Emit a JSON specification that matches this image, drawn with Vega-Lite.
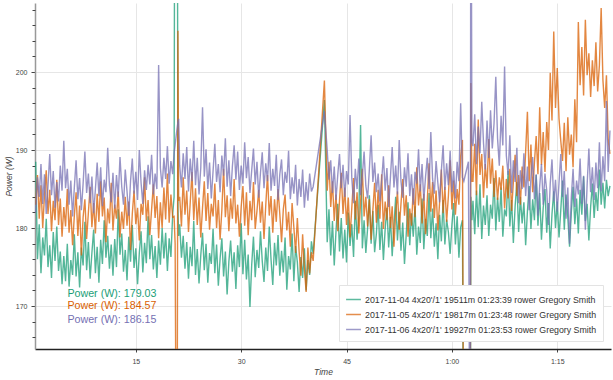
{
  "$schema": "https://vega.github.io/schema/vega-lite/v6.json",
  "width": 576,
  "height": 346,
  "autosize": {"type": "none"},
  "padding": {"left": 35, "top": 3, "right": 2, "bottom": 31},
  "background": "white",
  "config": {"font": "Liberation Sans", "view": {"stroke": null}},
  "encoding": {
    "x": {
      "field": "t", "type": "quantitative",
      "scale": {"domain": [0.65, 82.65], "nice": false, "zero": false},
      "axis": {
        "values": [15, 30, 45, 60, 75],
        "labelExpr": "datum.value < 60 ? '' + datum.value : floor(datum.value/60) + ':' + (datum.value % 60 < 10 ? '0' : '') + (datum.value % 60)",
        "title": "Time", "grid": true, "gridColor": "#e6e6e6",
        "domainColor": "#222", "domainWidth": 1.5, "tickSize": 3, "tickColor": "#444",
        "labelFontSize": 7, "labelColor": "#444", "labelPadding": 5,
        "titleFontSize": 8.5, "titleFontStyle": "italic", "titleFontWeight": "normal", "titleColor": "#444", "titlePadding": 3
      }
    }
  },
  "layer": [
    {
      "data": {"values": [
        {"t":0.75,"g":188.5,"o":183.0,"p":182.0},{"t":1.0,"g":176.0,"o":186.8,"p":186.5},{"t":1.25,"g":180.5,"o":181.2,"p":184.0},{"t":1.5,"g":174.2,"o":185.5,"p":188.2},{"t":1.75,"g":178.8,"o":180.0,"p":183.1},
        {"t":2.0,"g":176.5,"o":184.2,"p":186.9},{"t":2.25,"g":181.2,"o":187.4,"p":181.8},{"t":2.5,"g":175.0,"o":181.8,"p":185.4},{"t":2.75,"g":177.8,"o":184.9,"p":189.5},{"t":3.0,"g":173.6,"o":179.6,"p":184.2},
        {"t":3.25,"g":179.5,"o":183.5,"p":187.3},{"t":3.5,"g":175.8,"o":181.0,"p":182.6},{"t":3.75,"g":180.2,"o":186.2,"p":185.9},{"t":4.0,"g":174.5,"o":180.4,"p":183.4},{"t":4.25,"g":177.0,"o":183.8,"p":188.0},
        {"t":4.5,"g":172.8,"o":178.9,"p":184.8},{"t":4.75,"g":176.4,"o":182.7,"p":191.2},{"t":5.0,"g":173.2,"o":180.2,"p":185.1},{"t":5.25,"g":178.0,"o":185.0,"p":187.6},{"t":5.5,"g":172.5,"o":179.4,"p":183.0},
        {"t":5.75,"g":175.9,"o":182.3,"p":186.1},{"t":6.0,"g":174.0,"o":177.8,"p":181.5},{"t":6.25,"g":179.2,"o":181.6,"p":185.2},{"t":6.5,"g":173.8,"o":184.6,"p":188.7},{"t":6.75,"g":176.9,"o":179.0,"p":183.7},
        {"t":7.0,"g":172.4,"o":182.9,"p":186.4},{"t":7.25,"g":177.5,"o":176.5,"p":182.3},{"t":7.5,"g":175.2,"o":181.4,"p":185.7},{"t":7.75,"g":180.8,"o":183.7,"p":189.8},{"t":8.0,"g":174.6,"o":178.6,"p":184.5},
        {"t":8.25,"g":178.2,"o":182.0,"p":187.0},{"t":8.5,"g":173.5,"o":185.3,"p":183.2},{"t":8.75,"g":176.8,"o":180.1,"p":186.6},{"t":9.0,"g":179.8,"o":183.2,"p":181.9},{"t":9.25,"g":174.2,"o":179.3,"p":185.0},
        {"t":9.5,"g":177.6,"o":184.4,"p":188.4},{"t":9.75,"g":173.0,"o":180.8,"p":184.1},{"t":10.0,"g":178.5,"o":186.0,"p":187.8},{"t":10.25,"g":175.4,"o":181.5,"p":182.8},{"t":10.5,"g":181.0,"o":183.9,"p":186.2},
        {"t":10.75,"g":176.2,"o":178.2,"p":184.6},{"t":11.0,"g":179.0,"o":182.5,"p":190.3},{"t":11.25,"g":174.8,"o":180.6,"p":185.5},{"t":11.5,"g":177.9,"o":185.8,"p":183.3},{"t":11.75,"g":173.9,"o":179.7,"p":187.1},
        {"t":12.0,"g":178.6,"o":183.0,"p":182.5},{"t":12.25,"g":175.0,"o":181.2,"p":186.8},{"t":12.5,"g":182.4,"o":184.7,"p":184.0},{"t":12.75,"g":176.6,"o":178.8,"p":189.1},{"t":13.0,"g":179.3,"o":182.1,"p":185.3},
        {"t":13.25,"g":174.4,"o":179.9,"p":183.0},{"t":13.5,"g":177.2,"o":184.0,"p":187.5},{"t":13.75,"g":173.3,"o":180.3,"p":184.7},{"t":14.0,"g":178.9,"o":183.4,"p":181.6},{"t":14.25,"g":175.7,"o":177.2,"p":186.0},
        {"t":14.5,"g":180.4,"o":181.8,"p":188.9},{"t":14.75,"g":174.9,"o":184.8,"p":184.4},{"t":15.0,"g":177.4,"o":180.5,"p":187.2},{"t":15.25,"g":172.8,"o":182.6,"p":183.6},{"t":15.5,"g":176.8,"o":178.4,"p":190.0},
        {"t":15.75,"g":179.6,"o":183.1,"p":185.8},{"t":16.0,"g":174.3,"o":181.7,"p":183.1},{"t":16.25,"g":178.1,"o":186.5,"p":187.4},{"t":16.5,"g":175.5,"o":180.9,"p":184.9},{"t":16.75,"g":181.5,"o":183.6,"p":188.1},
        {"t":17.0,"g":176.0,"o":179.1,"p":185.6},{"t":17.25,"g":179.1,"o":182.4,"p":189.4},{"t":17.5,"g":174.7,"o":185.6,"p":184.3},{"t":17.75,"g":177.7,"o":181.3,"p":187.0},{"t":18.0,"g":173.6,"o":184.1,"p":185.0},
        {"t":18.25,"g":178.4,"o":178.7,"p":200.9},{"t":18.5,"g":175.3,"o":183.3,"p":187.7},{"t":18.75,"g":180.0,"o":180.0,"p":185.2},{"t":19.0,"g":176.1,"o":185.2,"p":189.0},{"t":19.25,"g":179.4,"o":181.1,"p":186.3},
        {"t":19.5,"g":174.5,"o":187.0,"p":190.5},{"t":19.75,"g":178.7,"o":180.7,"p":185.7},{"t":20.0,"g":176.3,"o":184.3,"p":188.6},{"t":20.25,"g":181.8,"o":181.4,"p":186.9},
        {"t":20.45,"g":184.0,"o":181.5,"p":189.6},{"t":20.6,"g":260,"o":178.0,"p":190.7},{"t":20.85,"g":260,"o":130,"p":192.6},{"t":21.0,"g":182.5,"o":205.3,"p":193.6},{"t":21.1,"g":179.0,"o":183.5,"p":194.0},
        {"t":21.25,"g":180.5,"o":184.0,"p":188.0},{"t":21.5,"g":176.2,"o":180.2,"p":185.2},{"t":21.75,"g":179.0,"o":186.5,"p":189.6},{"t":22.0,"g":174.8,"o":181.7,"p":186.3},{"t":22.25,"g":178.2,"o":184.8,"p":190.4},
        {"t":22.5,"g":173.5,"o":179.5,"p":184.7},{"t":22.75,"g":177.6,"o":183.3,"p":188.9},{"t":23.0,"g":175.1,"o":187.2,"p":186.0},{"t":23.25,"g":180.9,"o":181.0,"p":191.2},{"t":23.5,"g":174.0,"o":185.1,"p":185.5},
        {"t":23.75,"g":177.3,"o":180.4,"p":189.0},{"t":24.0,"g":172.9,"o":183.9,"p":184.3},{"t":24.25,"g":176.5,"o":178.8,"p":187.7},{"t":24.5,"g":179.4,"o":182.6,"p":195.5},{"t":24.75,"g":174.6,"o":186.0,"p":186.6},
        {"t":25.0,"g":178.0,"o":180.9,"p":190.1},{"t":25.25,"g":173.0,"o":184.5,"p":185.0},{"t":25.5,"g":176.8,"o":179.8,"p":188.4},{"t":25.75,"g":175.4,"o":183.1,"p":183.8},{"t":26.0,"g":179.9,"o":181.5,"p":187.3},
        {"t":26.25,"g":174.2,"o":185.7,"p":190.8},{"t":26.5,"g":177.9,"o":180.0,"p":185.9},{"t":26.75,"g":172.6,"o":183.6,"p":188.2},{"t":27.0,"g":176.1,"o":178.5,"p":184.6},{"t":27.25,"g":178.7,"o":182.3,"p":189.3},
        {"t":27.5,"g":173.8,"o":187.6,"p":186.7},{"t":27.75,"g":177.0,"o":181.4,"p":191.5},{"t":28.0,"g":171.5,"o":184.2,"p":185.3},{"t":28.25,"g":175.7,"o":179.6,"p":188.7},{"t":28.5,"g":178.4,"o":183.8,"p":184.1},
        {"t":28.75,"g":174.4,"o":181.2,"p":187.9},{"t":29.0,"g":176.9,"o":186.3,"p":190.6},{"t":29.25,"g":172.2,"o":180.6,"p":186.2},{"t":29.5,"g":177.8,"o":183.0,"p":189.8},{"t":29.75,"g":175.0,"o":178.9,"p":184.9},
        {"t":30.0,"g":180.6,"o":182.7,"p":188.0},{"t":30.25,"g":174.1,"o":185.4,"p":185.7},{"t":30.5,"g":178.5,"o":180.3,"p":191.0},{"t":30.75,"g":173.4,"o":184.6,"p":186.4},{"t":31.0,"g":176.6,"o":179.1,"p":189.1},
        {"t":31.25,"g":169.9,"o":183.5,"p":184.5},{"t":31.5,"g":175.3,"o":181.0,"p":187.4},{"t":31.75,"g":178.9,"o":185.9,"p":190.2},{"t":32.0,"g":173.7,"o":179.9,"p":185.6},{"t":32.25,"g":177.2,"o":182.2,"p":188.5},
        {"t":32.5,"g":174.9,"o":184.9,"p":183.9},{"t":32.75,"g":179.6,"o":180.7,"p":187.1},{"t":33.0,"g":175.8,"o":183.4,"p":189.7},{"t":33.25,"g":173.1,"o":178.6,"p":185.1},{"t":33.5,"g":177.5,"o":182.9,"p":188.3},
        {"t":33.75,"g":174.5,"o":186.8,"p":186.0},{"t":34.0,"g":180.2,"o":181.6,"p":190.9},{"t":34.25,"g":176.0,"o":184.1,"p":184.8},{"t":34.5,"g":172.7,"o":179.4,"p":187.6},{"t":34.75,"g":178.1,"o":183.7,"p":185.4},
        {"t":35.0,"g":175.2,"o":180.8,"p":189.4},{"t":35.25,"g":179.1,"o":185.0,"p":183.6},{"t":35.5,"g":173.9,"o":181.8,"p":186.9},{"t":35.75,"g":177.1,"o":178.2,"p":188.8},{"t":36.0,"g":174.3,"o":182.4,"p":184.2},
        {"t":36.25,"g":178.8,"o":184.3,"p":187.2},{"t":36.5,"g":172.1,"o":179.7,"p":185.8},{"t":36.75,"g":176.4,"o":182.1,"p":189.9},{"t":37.0,"g":174.7,"o":177.6,"p":183.7},{"t":37.25,"g":179.3,"o":183.2,"p":186.5},
        {"t":37.5,"g":173.2,"o":180.1,"p":184.4},{"t":37.75,"g":177.7,"o":176.8,"p":188.1},{"t":38.0,"g":175.6,"o":181.3,"p":182.9},{"t":38.25,"g":171.8,"o":177.0,"p":186.3},{"t":38.5,"g":176.3,"o":173.9,"p":184.0},
        {"t":38.75,"g":173.6,"o":179.2,"p":187.5},{"t":39.0,"g":177.4,"o":174.8,"p":182.6},{"t":39.25,"g":172.0,"o":171.8,"p":185.9},{"t":39.5,"g":175.9,"o":177.5,"p":183.5},{"t":39.75,"g":174.0,"o":174.2,"p":187.0},
        {"t":40.0,"g":178.3,"o":176.9,"p":184.7},{"t":40.25,"g":176.7,"o":175.8,"p":185.3},
        {"t":41.85,"g":196.4,"o":198.9,"p":195.0},
        {"t":42.25,"g":178.2,"o":184.8,"p":190.0},{"t":42.5,"g":182.4,"o":188.5,"p":186.2},{"t":42.75,"g":176.5,"o":182.7,"p":188.7},{"t":43.0,"g":180.9,"o":186.0,"p":184.5},{"t":43.25,"g":175.2,"o":180.9,"p":187.9},
        {"t":43.5,"g":179.6,"o":184.3,"p":183.6},{"t":43.75,"g":183.1,"o":179.6,"p":186.8},{"t":44.0,"g":177.0,"o":183.5,"p":189.5},{"t":44.25,"g":181.3,"o":187.1,"p":185.1},{"t":44.5,"g":176.1,"o":181.8,"p":188.1},
        {"t":44.75,"g":179.8,"o":185.2,"p":184.0},{"t":45.0,"g":175.6,"o":180.4,"p":187.3},{"t":45.25,"g":182.0,"o":183.9,"p":185.6},{"t":45.5,"g":177.7,"o":178.8,"p":194.5},{"t":45.75,"g":180.5,"o":182.6,"p":186.4},
        {"t":46.0,"g":176.3,"o":186.4,"p":183.2},{"t":46.25,"g":183.5,"o":181.1,"p":187.6},{"t":46.5,"g":178.5,"o":184.6,"p":185.0},{"t":46.75,"g":181.6,"o":179.3,"p":188.9},{"t":47.0,"g":193.2,"o":183.2,"p":184.2},
        {"t":47.25,"g":177.4,"o":187.6,"p":186.7},{"t":47.5,"g":181.0,"o":181.5,"p":189.8},{"t":47.75,"g":176.8,"o":184.0,"p":185.4},{"t":48.0,"g":180.0,"o":180.2,"p":183.8},{"t":48.25,"g":184.2,"o":183.7,"p":187.5},
        {"t":48.5,"g":178.0,"o":178.5,"p":191.9},{"t":48.75,"g":182.2,"o":182.3,"p":185.9},{"t":49.0,"g":176.9,"o":185.8,"p":188.4},{"t":49.25,"g":179.3,"o":180.7,"p":184.6},{"t":49.5,"g":183.0,"o":184.9,"p":187.0},
        {"t":49.75,"g":177.2,"o":181.2,"p":183.4},{"t":50.0,"g":180.8,"o":186.9,"p":186.1},{"t":50.25,"g":175.9,"o":179.9,"p":189.2},{"t":50.5,"g":179.9,"o":183.4,"p":184.8},{"t":50.75,"g":182.6,"o":181.0,"p":187.7},
        {"t":51.0,"g":177.5,"o":185.5,"p":182.7},{"t":51.25,"g":181.4,"o":180.0,"p":186.5},{"t":51.5,"g":176.4,"o":182.8,"p":190.4},{"t":51.75,"g":180.3,"o":177.6,"p":185.2},{"t":52.0,"g":184.0,"o":181.9,"p":188.0},
        {"t":52.25,"g":178.4,"o":184.7,"p":184.3},{"t":52.5,"g":182.1,"o":179.8,"p":191.3},{"t":52.75,"g":177.1,"o":183.1,"p":186.0},{"t":53.0,"g":180.7,"o":186.3,"p":183.9},{"t":53.25,"g":175.4,"o":181.6,"p":187.8},
        {"t":53.5,"g":179.2,"o":184.2,"p":185.3},{"t":53.75,"g":183.3,"o":178.9,"p":189.6},{"t":54.0,"g":177.8,"o":182.5,"p":184.1},{"t":54.25,"g":181.9,"o":180.3,"p":186.9},{"t":54.5,"g":178.9,"o":185.1,"p":183.0},
        {"t":54.75,"g":182.8,"o":181.4,"p":187.2},{"t":55.0,"g":176.6,"o":187.8,"p":185.7},{"t":55.25,"g":180.2,"o":182.9,"p":190.1},{"t":55.5,"g":178.1,"o":185.6,"p":184.7},{"t":55.75,"g":183.8,"o":180.6,"p":188.2},
        {"t":56.0,"g":177.3,"o":184.4,"p":183.5},{"t":56.25,"g":181.2,"o":179.2,"p":186.6},{"t":56.5,"g":179.0,"o":183.6,"p":189.0},{"t":56.75,"g":184.5,"o":188.3,"p":185.0},{"t":57.0,"g":178.7,"o":182.1,"p":192.3},
        {"t":57.25,"g":182.5,"o":185.9,"p":186.3},{"t":57.5,"g":177.6,"o":181.3,"p":184.4},{"t":57.75,"g":180.6,"o":184.8,"p":188.6},{"t":58.0,"g":176.0,"o":179.7,"p":185.8},{"t":58.25,"g":181.7,"o":183.3,"p":183.3},
        {"t":58.5,"g":178.3,"o":187.5,"p":187.4},{"t":58.75,"g":183.6,"o":181.9,"p":190.6},{"t":59.0,"g":177.9,"o":185.3,"p":184.9},{"t":59.25,"g":181.1,"o":180.8,"p":188.3},{"t":59.5,"g":179.5,"o":184.1,"p":185.5},
        {"t":59.75,"g":176.7,"o":188.7,"p":189.9},{"t":60.0,"g":180.4,"o":182.4,"p":184.6},{"t":60.25,"g":183.2,"o":186.1,"p":187.3},{"t":60.5,"g":177.9,"o":181.7,"p":183.8},{"t":60.75,"g":181.5,"o":185.0,"p":188.5},
        {"t":61.0,"g":176.2,"o":183.0,"p":186.0},{"t":61.25,"g":180.1,"o":189.2,"p":196.0},{"t":61.5,"g":181.0,"o":191.3,"p":186.5},
        {"t":61.7,"g":140,"o":140,"p":186.0},{"t":62.35,"g":140,"o":140,"p":188.5},{"t":62.6,"g":140,"o":140,"p":140},{"t":62.7,"g":184.0,"o":198.6,"p":240},{"t":62.85,"g":181.0,"o":186.0,"p":191.0},
        {"t":63.0,"g":183.5,"o":186.0,"p":190.5},{"t":63.25,"g":179.2,"o":190.8,"p":194.6},{"t":63.5,"g":184.8,"o":184.2,"p":188.2},{"t":63.75,"g":180.1,"o":193.9,"p":193.0},{"t":64.0,"g":185.6,"o":186.8,"p":189.6},
        {"t":64.25,"g":178.6,"o":189.5,"p":196.2},{"t":64.5,"g":182.9,"o":183.9,"p":190.9},{"t":64.75,"g":180.4,"o":188.2,"p":187.5},{"t":65.0,"g":184.2,"o":185.1,"p":193.8},{"t":65.25,"g":179.0,"o":191.4,"p":189.0},
        {"t":65.5,"g":183.0,"o":185.7,"p":195.1},{"t":65.75,"g":181.2,"o":188.9,"p":190.2},{"t":66.0,"g":186.4,"o":184.0,"p":193.4},{"t":66.25,"g":179.7,"o":187.4,"p":199.4},{"t":66.5,"g":183.9,"o":183.6,"p":191.5},
        {"t":66.75,"g":180.8,"o":186.5,"p":188.0},{"t":67.0,"g":185.2,"o":184.9,"p":194.4},{"t":67.25,"g":178.9,"o":188.0,"p":190.6},{"t":67.5,"g":182.4,"o":182.5,"p":200.7},{"t":67.75,"g":181.5,"o":186.3,"p":189.3},
        {"t":68.0,"g":187.3,"o":183.8,"p":186.8},{"t":68.25,"g":180.2,"o":187.6,"p":191.9},{"t":68.5,"g":183.6,"o":182.2,"p":184.5},{"t":68.75,"g":178.1,"o":185.9,"p":188.7},{"t":69.0,"g":182.8,"o":189.4,"p":185.9},
        {"t":69.25,"g":185.9,"o":184.1,"p":190.3},{"t":69.5,"g":179.5,"o":186.8,"p":183.2},{"t":69.75,"g":184.0,"o":183.0,"p":187.4},{"t":70.0,"g":180.6,"o":187.9,"p":185.0},{"t":70.25,"g":183.3,"o":185.2,"p":189.6},
        {"t":70.5,"g":177.8,"o":189.8,"p":184.1},{"t":70.75,"g":182.1,"o":194.9,"p":187.9},{"t":71.0,"g":185.4,"o":186.0,"p":182.3},{"t":71.25,"g":179.9,"o":190.7,"p":186.4},{"t":71.5,"g":183.7,"o":184.6,"p":189.1},
        {"t":71.75,"g":181.0,"o":188.4,"p":183.7},{"t":72.0,"g":186.8,"o":191.8,"p":186.9},{"t":72.25,"g":180.3,"o":186.9,"p":181.6},{"t":72.5,"g":184.5,"o":195.5,"p":185.4},{"t":72.75,"g":178.5,"o":188.1,"p":188.2},
        {"t":73.0,"g":182.6,"o":192.3,"p":183.0},{"t":73.25,"g":185.0,"o":187.2,"p":187.0},{"t":73.5,"g":179.4,"o":193.6,"p":184.8},{"t":73.75,"g":183.2,"o":190.0,"p":180.4},{"t":74.0,"g":177.4,"o":199.9,"p":185.7},
        {"t":74.25,"g":181.8,"o":193.8,"p":188.8},{"t":74.5,"g":184.7,"o":205.2,"p":183.4},{"t":74.75,"g":180.0,"o":195.4,"p":186.2},{"t":75.0,"g":183.4,"o":200.5,"p":182.1},{"t":75.25,"g":178.8,"o":194.0,"p":185.8},
        {"t":75.5,"g":182.3,"o":191.2,"p":189.5},{"t":75.75,"g":186.1,"o":188.6,"p":184.0},{"t":76.0,"g":179.8,"o":193.5,"p":187.3},{"t":76.25,"g":184.3,"o":187.3,"p":181.2},{"t":76.5,"g":181.4,"o":194.2,"p":185.2},
        {"t":76.75,"g":177.6,"o":189.4,"p":178.0},{"t":77.0,"g":182.0,"o":192.0,"p":183.9},{"t":77.25,"g":185.3,"o":187.8,"p":187.6},{"t":77.5,"g":180.5,"o":196.5,"p":182.7},{"t":77.75,"g":183.8,"o":191.0,"p":186.1},
        {"t":78.0,"g":179.3,"o":206.4,"p":184.3},{"t":78.25,"g":184.9,"o":198.3,"p":188.9},{"t":78.5,"g":181.7,"o":203.2,"p":183.1},{"t":78.75,"g":186.6,"o":197.0,"p":186.7},{"t":79.0,"g":180.9,"o":206.7,"p":179.8},
        {"t":79.25,"g":183.1,"o":199.6,"p":185.5},{"t":79.5,"g":178.4,"o":202.4,"p":190.2},{"t":79.75,"g":182.7,"o":196.8,"p":184.6},{"t":80.0,"g":185.7,"o":201.5,"p":187.8},{"t":80.25,"g":181.3,"o":198.2,"p":183.6},
        {"t":80.5,"g":184.6,"o":203.8,"p":188.4},{"t":80.75,"g":182.2,"o":197.5,"p":185.1},{"t":81.0,"g":187.5,"o":200.9,"p":191.0},{"t":81.25,"g":183.0,"o":208.2,"p":184.7},{"t":81.5,"g":185.8,"o":199.0,"p":189.2},
        {"t":81.75,"g":182.5,"o":195.4,"p":186.0},{"t":82.0,"g":186.2,"o":199.6,"p":196.3},{"t":82.25,"g":184.1,"o":191.3,"p":187.2},{"t":82.5,"g":185.4,"o":189.5,"p":192.5}
      ]},
      "transform": [{"fold": ["g", "o", "p"], "as": ["key", "v"]}],
      "mark": {"type": "line", "strokeWidth": 1.4, "strokeOpacity": 0.75, "clip": true},
      "encoding": {
        "y": {
          "field": "v", "type": "quantitative",
          "scale": {"domain": [164.5, 208.85], "nice": false, "zero": false},
          "axis": {
            "values": [170, 180, 190, 200], "title": "Power (W)", "grid": true, "gridColor": "#e6e6e6",
            "domainColor": "#999", "domainWidth": 1.5, "tickSize": 4, "tickColor": "#444",
            "labelFontSize": 7, "labelColor": "#444", "labelPadding": 4,
            "titleFontSize": 8.5, "titleFontStyle": "italic", "titleFontWeight": "normal", "titleColor": "#444", "titlePadding": 2
          }
        },
        "color": {
          "field": "key", "type": "nominal",
          "scale": {"domain": ["g", "o", "p"], "range": ["#1b9e77", "#d95f02", "#7570b3"]},
          "legend": {
            "orient": "bottom-right", "offset": 8, "title": null,
            "symbolType": "stroke", "symbolSize": 220, "symbolStrokeWidth": 1.5, "symbolOpacity": 0.7,
            "labelFontSize": 8.8, "labelColor": "#333", "labelOffset": 3, "labelLimit": 400,
            "fillColor": "#ffffff", "strokeColor": "#e3e3e3", "padding": 6, "rowPadding": 1,
            "labelExpr": "datum.value == 'g' ? \"2017-11-04 4x20'/1' 19511m 01:23:39 rower Gregory Smith\" : datum.value == 'o' ? \"2017-11-05 4x20'/1' 19817m 01:23:48 rower Gregory Smith\" : \"2017-11-06 4x20'/1' 19927m 01:23:53 rower Gregory Smith\""
          }
        }
      }
    },
    {
      "data": {"values": [
        {"t": 5.26, "v": 171.54, "label": "Power (W): 179.03", "key": "g"},
        {"t": 5.26, "v": 170.04, "label": "Power (W): 184.57", "key": "o"},
        {"t": 5.26, "v": 168.2, "label": "Power (W): 186.15", "key": "p"}
      ]},
      "mark": {"type": "text", "align": "left", "baseline": "middle", "fontSize": 10.7},
      "encoding": {
        "y": {
          "field": "v", "type": "quantitative",
          "scale": {"domain": [164.5, 208.85], "nice": false, "zero": false},
          "axis": {
            "orient": "left", "values": [166, 168, 172, 174, 176, 178, 182, 184, 186, 188, 192, 194, 196, 198, 202, 204, 206, 208],
            "labels": false, "grid": false, "domain": false, "ticks": true, "tickSize": 3, "tickColor": "#444", "title": null
          }
        },
        "text": {"field": "label"},
        "color": {
          "field": "key", "type": "nominal",
          "scale": {"domain": ["g", "o", "p"], "range": ["#1b9e77", "#d95f02", "#7570b3"]},
          "legend": null
        }
      }
    }
  ],
  "resolve": {"axis": {"y": "independent"}, "scale": {"color": "independent"}}
}
